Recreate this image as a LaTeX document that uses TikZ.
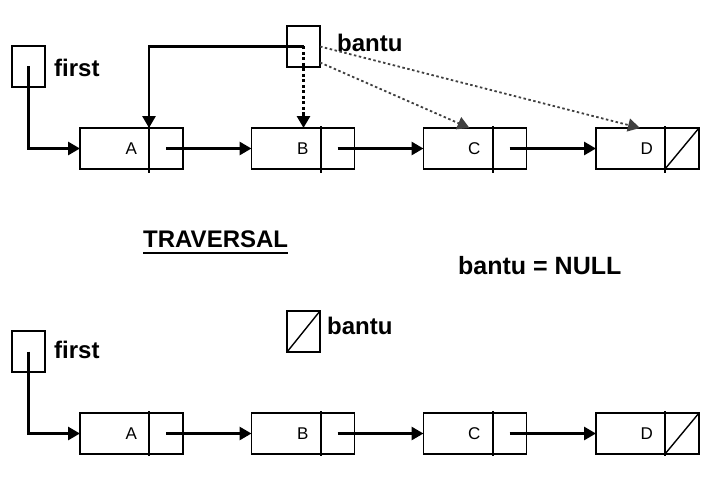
\documentclass[tikz,border=0pt]{standalone}
\usepackage{fontspec}
\setmainfont{Liberation Sans}
\usetikzlibrary{positioning,arrows.meta}

\tikzset{
  >={Triangle[length=12pt,width=13pt]},
  cell/.style={draw, line width=1.4pt, inner sep=0pt, outer sep=0pt,
    minimum height=41pt},
  datacell/.style={cell, minimum width=69pt, text width=45pt, align=right,
    font=\fontsize{17}{17}\selectfont},
  ptrcell/.style={cell, minimum width=34pt},
  varbox/.style={cell, minimum width=33pt},
  lbl/.style={inner sep=0pt, anchor=base west, font=\bfseries\fontsize{24}{24}\selectfont},
  divider/.style={line width=2pt},
  link/.style={->, line width=2.8pt},
  walk/.style={->, line width=2.8pt, dash pattern=on 3pt off 2.5pt},
  probe/.style={->, line width=1.8pt, black!75, dash pattern=on 2.5pt off 2.5pt},
}

\begin{document}
\begin{tikzpicture}[x=1pt,y=-1pt]
\useasboundingbox (0,0) rectangle (711,484);

% traversal in progress
\node[varbox] (first1) at (28.5,66.5) {};
\node[lbl] (firstlbl1) at ([xshift=9pt,yshift=-10.5pt]first1.east) {first};
\node[varbox] (bantu1) at (303.5,46.5) {};
\node[lbl] (bantulbl1) at ([xshift=17pt,yshift=-5.5pt]bantu1.east) {bantu};

\node[datacell] (a1) at (114.5,148.5) {A};
\node[ptrcell, right=0pt of a1] (pa1) {};
\node[datacell] (b1) at (286,148.5) {B};
\node[ptrcell, right=0pt of b1] (pb1) {};
\node[datacell] (c1) at (458,148.5) {C};
\node[ptrcell, right=0pt of c1] (pc1) {};
\node[datacell] (d1) at (630.5,148.5) {D};
\node[ptrcell, right=0pt of d1] (pd1) {};

\draw[divider] ([yshift=2pt]a1.north east) -- ([yshift=-4pt]a1.south east);
\draw[divider] ([yshift=2pt]b1.north east) -- ([yshift=-4pt]b1.south east);
\draw[divider] ([yshift=2pt]c1.north east) -- ([yshift=-4pt]c1.south east);
\draw[divider] ([yshift=2pt]d1.north east) -- ([yshift=-4pt]d1.south east);
\draw[line width=1.4pt] (pd1.south west) -- (pd1.north east);

\draw[link] (first1.center) |- (a1);
\draw[link] (pa1.center) -- (b1);
\draw[link] (pb1.center) -- (c1);
\draw[link] (pc1.center) -- (d1);
\draw[link] (bantu1.center) -| (a1.north east);
\draw[walk] (bantu1.center) -- (bantu1.center |- b1.north);
\draw[probe] ([yshift=-16pt]bantu1.east) -- ([xshift=-23pt]c1.north east);
\draw[probe] (bantu1.east) -- ([xshift=-25pt]d1.north east);

% captions
\node[lbl] (trav) at (143,247) {TRAVERSAL};
\draw[line width=2pt] ([yshift=-6pt]trav.base west) -- ([yshift=-6pt]trav.base east);
\node[lbl, font=\bfseries\fontsize{25}{25}\selectfont] (isnull) at (458,274) {bantu = NULL};

% traversal finished
\node[varbox] (first2) at (28.5,351.5) {};
\node[lbl] (firstlbl2) at ([xshift=9pt,yshift=-6.5pt]first2.east) {first};
\node[varbox] (bantu2) at (303.5,331.5) {};
\node[lbl] (bantulbl2) at ([xshift=7pt,yshift=-2.5pt]bantu2.east) {bantu};
\draw[line width=1.4pt] (bantu2.south west) -- (bantu2.north east);

\node[datacell] (a2) at (114.5,433.5) {A};
\node[ptrcell, right=0pt of a2] (pa2) {};
\node[datacell] (b2) at (286,433.5) {B};
\node[ptrcell, right=0pt of b2] (pb2) {};
\node[datacell] (c2) at (458,433.5) {C};
\node[ptrcell, right=0pt of c2] (pc2) {};
\node[datacell] (d2) at (630.5,433.5) {D};
\node[ptrcell, right=0pt of d2] (pd2) {};

\draw[divider] ([yshift=2pt]a2.north east) -- ([yshift=-2pt]a2.south east);
\draw[divider] ([yshift=2pt]b2.north east) -- ([yshift=-2pt]b2.south east);
\draw[divider] ([yshift=2pt]c2.north east) -- ([yshift=-2pt]c2.south east);
\draw[divider] ([yshift=2pt]d2.north east) -- ([yshift=-2pt]d2.south east);
\draw[line width=1.4pt] (pd2.south west) -- (pd2.north east);

\draw[link] (first2.center) |- (a2);
\draw[link] (pa2.center) -- (b2);
\draw[link] (pb2.center) -- (c2);
\draw[link] (pc2.center) -- (d2);
\end{tikzpicture}
\end{document}
